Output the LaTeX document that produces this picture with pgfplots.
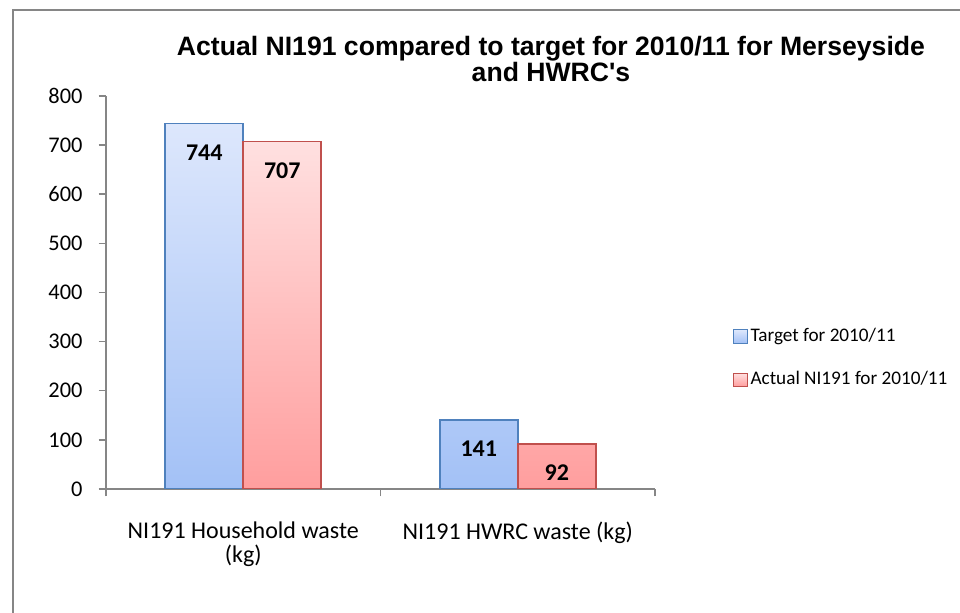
\documentclass[border=0pt]{standalone}
\usepackage{pgfplots}
\pgfplotsset{compat=1.18}
\usepackage{fontspec}
\setmainfont{Carlito}
\newfontfamily\arial{Liberation Sans}

\definecolor{blueedge}{HTML}{4F81BD}
\definecolor{bluetop}{HTML}{DDE7FC}
\definecolor{bluebot}{HTML}{A3C1F6}
\definecolor{rededge}{HTML}{C0504D}
\definecolor{redtop}{HTML}{FFE0E0}
\definecolor{redbot}{HTML}{FF9E9E}
\definecolor{axgray}{HTML}{868686}

\begin{document}
\begin{tikzpicture}
\useasboundingbox (0,0) rectangle (480pt,306.5pt);
% frame of the chart area
\draw[axgray, line width=0.9pt] (6.5pt,0) -- (6.5pt,301.5pt) -- (480pt,301.5pt);

\node[font=\arial\bfseries\fontsize{13.3}{12}\selectfont, align=center]
  at (275.5pt,277pt) {Actual NI191 compared to target for 2010/11 for Merseyside\\and HWRC's};

\begin{axis}[
    at={(53pt,62pt)}, anchor=origin,
    scale only axis,
    width=274.5pt, height=196.5pt,
    xmin=0, xmax=2, ymin=0, ymax=800,
    ybar=0pt, bar width=39pt,
    axis x line*=bottom, axis y line*=left,
    axis line style={axgray, line width=0.75pt, -},
    every tick/.style={axgray, line width=0.75pt},
    major tick length=3.7pt,
    tick align=outside,
    ytick={0,100,...,800},
    xtick={0,1,2},
    x tick label as interval,
    xticklabels={{NI191 Household waste\\(kg)}, {NI191 HWRC waste (kg)}},
    xticklabel style={align=center, font=\fontsize{12}{12}\selectfont, yshift=-9pt},
    yticklabel style={font=\fontsize{11.2}{12}\selectfont, xshift=-4.5pt},
    /pgf/number format/assume math mode=true,
    nodes near coords,
    every node near coord/.append style={font=\bfseries\fontsize{12}{12}\selectfont, anchor=center, yshift=-14.5pt},
    legend image code/.code={\draw[#1, line width=0.5pt] (0pt,-3.3pt) rectangle (6.6pt,3.3pt);},
    legend style={at={(1.142,0.333)}, anchor=west, draw=none, fill=none,
        font=\fontsize{9.6}{11}\selectfont, row sep=10.5pt, inner sep=0pt,
        nodes={inner sep=1.5pt}},
    legend cell align=left,
]
\addplot[draw=blueedge, line width=0.8pt, top color=bluetop, bottom color=bluebot]
  coordinates {(0.5,744) (1.5,141)};
\addplot[draw=rededge, line width=0.8pt, top color=redtop, bottom color=redbot]
  coordinates {(0.5,707) (1.5,92)};
\legend{Target for 2010/11, Actual NI191 for 2010/11}
\end{axis}
\end{tikzpicture}
\end{document}
